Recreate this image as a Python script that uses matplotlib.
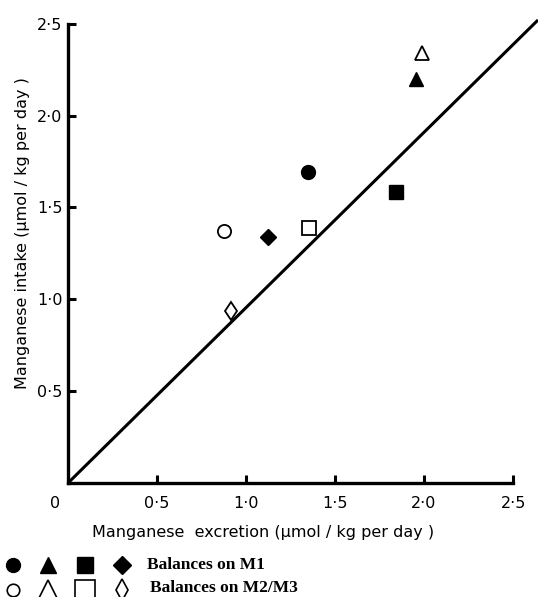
import matplotlib
matplotlib.use("Agg")
import matplotlib.pyplot as plt

# --- Datos (excreción, ingesta) en µmol/kg por día ---
m1_x = [1.35, 1.955, 1.84, 1.124]      # balances en M1 (símbolos rellenos)
m1_y = [1.69, 2.20, 1.585, 1.34]
m23_x = [0.876, 1.99, 1.354, 0.916]    # balances en M2/M3 (símbolos vacíos)
m23_y = [1.373, 2.34, 1.39, 0.937]
m1_markers = ['o', '^', 's', 'D']
m23_markers = ['o', '^', 's', 'd']

line_x = [0, 2.64]
line_y = [0, 2.52]

tick_vals = [0.5, 1.0, 1.5, 2.0, 2.5]
tick_labels = ['0·5', '1·0', '1·5', '2·0', '2·5']

W, H = 538, 597
fig = plt.figure(figsize=(W / 100, H / 100), dpi=100)
ax = fig.add_axes([68 / W, 114 / H, 470 / W, 463 / H])
ax.set_xlim(0, 2.64)
ax.set_ylim(0, 2.52)

ax.plot(line_x, line_y, color='black', lw=2.2, solid_capstyle='butt', clip_on=False)

m1_sizes = {'o': 10, '^': 10, 's': 10.5, 'D': 8.5}
m23_sizes = {'o': 9.5, '^': 10, 's': 10.5, 'd': 9.5}
for x, y, m in zip(m1_x, m1_y, m1_markers):
    ax.plot(x, y, m, color='black', ms=m1_sizes[m], clip_on=False)
for x, y, m in zip(m23_x, m23_y, m23_markers):
    ax.plot(x, y, m, mfc='white', mec='black', mew=1.3, ms=m23_sizes[m], clip_on=False)

for s in ['top', 'right']:
    ax.spines[s].set_visible(False)
for s in ['left', 'bottom']:
    ax.spines[s].set_linewidth(2.4)
    ax.spines[s].set_bounds(0, 2.5)

ax.set_xticks(tick_vals)
ax.set_xticklabels(tick_labels)
ax.set_yticks(tick_vals)
ax.set_yticklabels(tick_labels)
ax.tick_params(direction='in', length=6, width=2.2, labelsize=11.5)
ax.tick_params(axis='x', pad=9)
ax.tick_params(axis='y', pad=4)
# "0" del origen, desplazado a la izquierda como en el original
ax.annotate('0', xy=(-0.07, 0), xycoords=('data', 'axes fraction'),
            xytext=(0, -9), textcoords='offset points',
            ha='center', va='top', fontsize=11.5, annotation_clip=False)

fig.text(263 / W, 1 - 532 / H, 'Manganese  excretion (µmol / kg per day )',
         ha='center', va='center', fontsize=11.5)
fig.text(23 / W, 1 - 233 / H, 'Manganese intake (µmol / kg per day )',
         ha='center', va='center', rotation=90, fontsize=11.5)

# --- Leyenda dibujada a mano en la parte inferior ---
leg = fig.add_axes([0, 0, 1, 1])
leg.set_xlim(0, W)
leg.set_ylim(H, 0)
leg.axis('off')
leg_x = [13, 48, 85, 122]
leg1_sizes = {'o': 10, '^': 11, 's': 12, 'D': 9}
leg2_sizes = {'o': 9, '^': 14, 's': 14, 'd': 11}
for x, m in zip(leg_x, m1_markers):
    leg.plot(x, 565, m, color='black', ms=leg1_sizes[m], clip_on=False)
for x, m in zip(leg_x, m23_markers):
    leg.plot(x, 590, m, mfc='white', mec='black', mew=1.2, ms=leg2_sizes[m], clip_on=False)
leg.text(147, 565, 'Balances on M1', fontfamily='Liberation Serif', fontweight='bold',
         fontsize=12.5, va='center')
leg.text(150, 588, 'Balances on M2/M3', fontfamily='Liberation Serif', fontweight='bold',
         fontsize=12.5, va='center')

fig.savefig('out.png', dpi=100)
